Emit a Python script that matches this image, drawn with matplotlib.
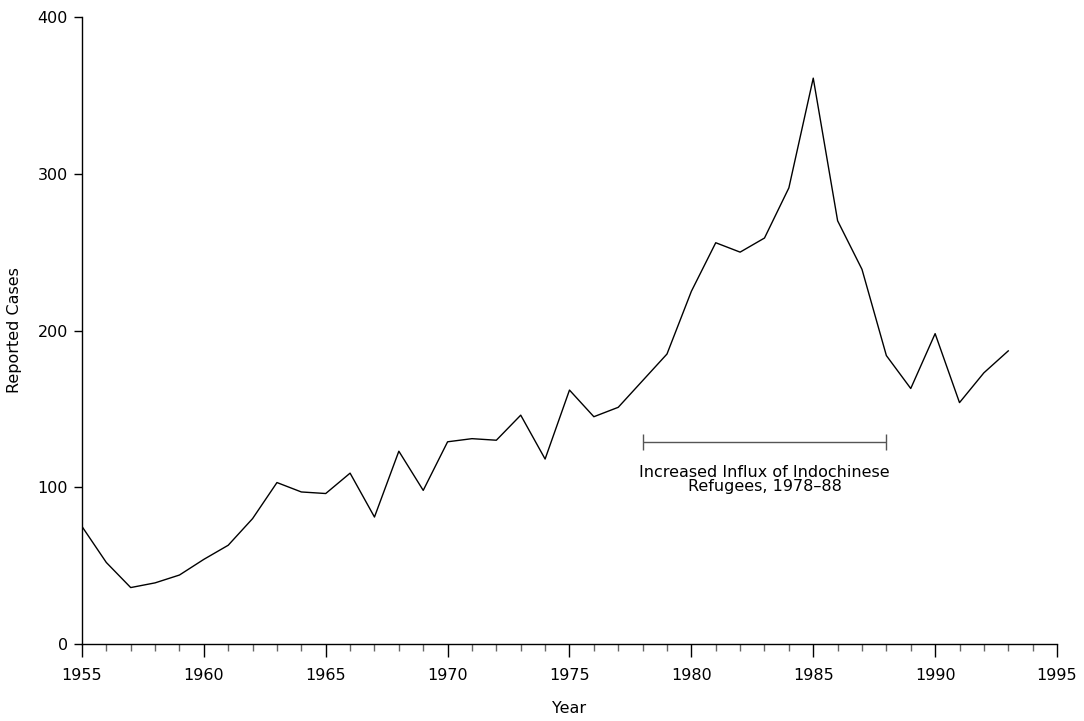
import matplotlib.pyplot as plt
from matplotlib.ticker import MultipleLocator

years = list(range(1955, 1994))
cases = [75, 52, 36, 39, 44, 54, 63, 80, 103, 97,
         96, 109, 81, 123, 98, 129, 131, 130, 146, 118,
         162, 145, 151, 168, 185, 225, 256, 250, 259, 291,
         361, 270, 239, 184, 163, 198, 154, 173, 187]

influx_start, influx_end = 1978, 1988
influx_level = 129
influx_label = "Increased Influx of Indochinese\nRefugees, 1978\u201388"

plt.rcParams['font.family'] = ['DejaVu Sans']

fig = plt.figure(figsize=(10.84, 7.21), dpi=100)
ax = fig.add_axes([0.0756, 0.1068, 0.8995, 0.8696])

ax.plot(years, cases, color='black', lw=1)

# refugee influx bracket
ax.errorbar([(influx_start + influx_end) / 2], [influx_level],
            xerr=[(influx_end - influx_start) / 2], fmt='none',
            ecolor='#555555', elinewidth=1, capsize=5.5, capthick=1)
ax.text((influx_start + influx_end) / 2, influx_level - 15, influx_label,
        ha='center', va='top', fontsize=11.5, linespacing=0.85)

ax.set_xlim(1955, 1995)
ax.set_ylim(0, 400)
ax.xaxis.set_major_locator(MultipleLocator(5))
ax.xaxis.set_minor_locator(MultipleLocator(1))
ax.yaxis.set_major_locator(MultipleLocator(100))

for side in ['top', 'right']:
    ax.spines[side].set_visible(False)
ax.spines['left'].set_linewidth(1)
ax.spines['bottom'].set_linewidth(1)

ax.tick_params(axis='x', which='major', length=9, width=1, labelsize=11.5, pad=8)
ax.tick_params(axis='x', which='minor', length=5, width=1, color='#666666')
ax.tick_params(axis='y', which='major', length=6, width=1, labelsize=11.5, pad=4)

ax.set_xlabel('Year', fontsize=11.5, labelpad=13)
ax.set_ylabel('Reported Cases', fontsize=11.5, labelpad=11)

fig.savefig('out.png', dpi=100)
